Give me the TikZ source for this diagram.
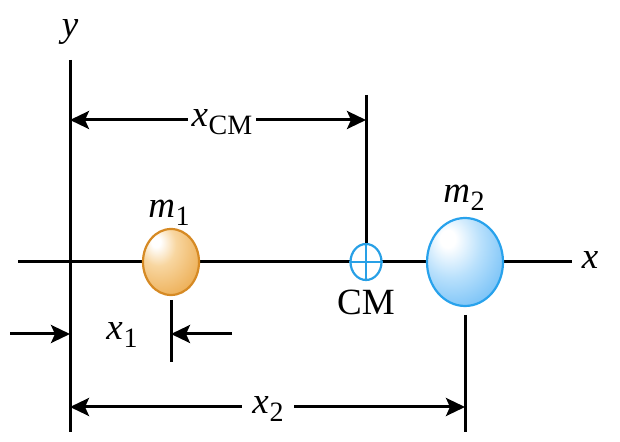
\documentclass[tikz,border=0pt]{standalone}
\usepackage{fontspec}
\setmainfont{Liberation Serif}
\usetikzlibrary{arrows.meta,shapes.geometric}
\definecolor{oneedge}{RGB}{214,138,36}
\definecolor{onebody}{RGB}{238,178,92}
\definecolor{onemid}{RGB}{248,214,160}
\definecolor{twoedge}{RGB}{40,162,236}
\definecolor{twobody}{RGB}{108,188,246}
\definecolor{twomid}{RGB}{184,224,252}
\definecolor{cmcol}{RGB}{40,160,230}
\pgfdeclareradialshading{ballone}{\pgfpoint{-14bp}{16bp}}{color(0bp)=(white); color(4bp)=(white); color(16bp)=(onemid); color(36bp)=(onebody); color(60bp)=(oneedge!60!onebody); color(90bp)=(oneedge)}
\pgfdeclareradialshading{balltwo}{\pgfpoint{-12bp}{14bp}}{color(0bp)=(white); color(5bp)=(white); color(20bp)=(twomid); color(40bp)=(twobody); color(62bp)=(twobody!70!twoedge); color(90bp)=(twoedge)}
\newcommand{\sbs}[1]{\kern0.3pt\raisebox{-0.45ex}{\fontsize{14}{14}\selectfont #1}}
\tikzset{
  tip/.tip={Stealth[length=9.5pt,width=9pt,inset=2pt]},
  ballA/.style={ellipse, draw=oneedge, line width=1.1pt, shading=ballone, minimum width=28pt, minimum height=33pt, inner sep=0pt},
  ballB/.style={ellipse, draw=twoedge, line width=1.1pt, shading=balltwo, minimum width=38pt, minimum height=44pt, inner sep=0pt},
  cmmark/.style={ellipse, draw=cmcol, fill=white, line width=1.1pt, minimum width=15.5pt, minimum height=18pt, inner sep=0pt},
  dimarrow/.style={-tip, line width=1.5pt},
  dimboth/.style={tip-tip, line width=1.5pt},
  lbl/.style={inner sep=1pt},
  gaplbl/.style={fill=white, inner sep=2pt}
}
\begin{document}
\begin{tikzpicture}[x=0.5pt,y=-0.5pt, line width=1.5pt, font=\fontsize{18.5}{21}\selectfont]
\useasboundingbox (0,0) rectangle (620,442);
% axes
\coordinate (xl) at (18,262);
\coordinate (xr) at (572,262);
\coordinate (yt) at (70,60);
\coordinate (yb) at (70,432);
\draw (xl) -- (xr);
\draw (yt) -- (yb);
% masses and CM
\node[ballA] (m1) at (171,262) {};
\node[ballB] (m2) at (465,262) {};
\node[cmmark] (cm) at (366,262) {};
\draw[cmcol, line width=1.1pt] (cm.north) -- (cm.south) (cm.west) -- (cm.east);
% extension lines
\coordinate (cmtop) at (366,95);
\draw (cmtop) -- (cm.north);
\coordinate (m1a) at (171,300);
\coordinate (m1b) at (171,362);
\draw (m1a) -- (m1b);
\coordinate (m2a) at (465,315);
\coordinate (m2b) at (465,432);
\draw (m2a) -- (m2b);
% x_CM dimension
\coordinate (cmL) at (70,120);
\coordinate (cmR) at (366,120);
\draw[dimboth] (cmL) -- (cmR);
\node[gaplbl] (xcm) at (222,122) {\textit{x}\sbs{CM}};
% x_1 dimension
\coordinate (a1s) at (10,334);
\coordinate (a1e) at (70,334);
\coordinate (b1s) at (232,334);
\coordinate (b1e) at (171,334);
\draw[dimarrow] (a1s) -- (a1e);
\draw[dimarrow] (b1s) -- (b1e);
\node[lbl] (x1) at (122,335) {\textit{x}\sbs{1}};
% x_2 dimension
\coordinate (x2L) at (70,407);
\coordinate (x2R) at (465,407);
\draw[dimboth] (x2L) -- (x2R);
\node[gaplbl, inner xsep=5pt] (x2) at (268,409) {\textit{x}\sbs{2}};
% labels
\node[lbl] (ylab) at (70,32) {\textit{y}};
\node[lbl] (xlab) at (590,260) {\textit{x}};
\node[lbl] (m1lab) at (169,213) {\textit{m}\sbs{1}};
\node[lbl] (m2lab) at (464,198) {\textit{m}\sbs{2}};
\node[lbl] (cmlab) at (366,302) {CM};
\end{tikzpicture}
\end{document}
